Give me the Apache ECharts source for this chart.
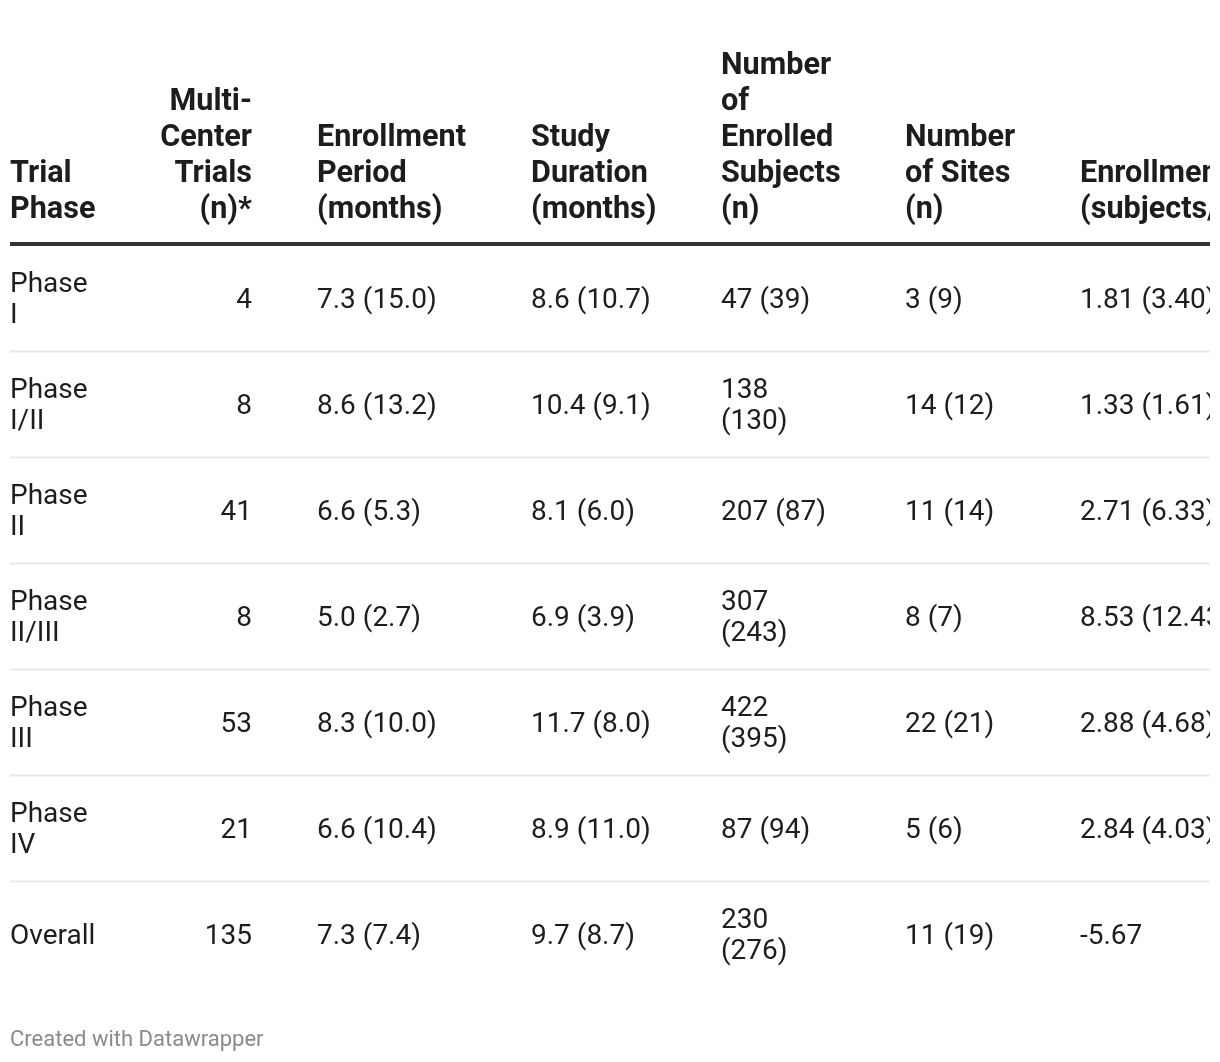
<!DOCTYPE html>
<html>
<head>
<meta charset="utf-8">
<script src="https://cdn.jsdelivr.net/npm/echarts@6/dist/echarts.min.js"></script>
<style>
  html, body { margin: 0; padding: 0; background: #ffffff; }
  #chart { width: 1210px; height: 1062px; }
</style>
</head>
<body>
<div id="chart"></div>
<script>
// ---- data ----
var phases = ['Phase I', 'Phase I/II', 'Phase II', 'Phase II/III', 'Phase III', 'Phase IV', 'Overall'];
var multiCenterTrials = [4, 8, 41, 8, 53, 21, 135];
var enrollPeriodMean = [7.3, 8.6, 6.6, 5.0, 8.3, 6.6, 7.3];
var enrollPeriodSD = [15.0, 13.2, 5.3, 2.7, 10.0, 10.4, 7.4];
var studyDurationMean = [8.6, 10.4, 8.1, 6.9, 11.7, 8.9, 9.7];
var studyDurationSD = [10.7, 9.1, 6.0, 3.9, 8.0, 11.0, 8.7];
var subjectsMean = [47, 138, 207, 307, 422, 87, 230];
var subjectsSD = [39, 130, 87, 243, 395, 94, 276];
var sitesMean = [3, 14, 11, 8, 22, 5, 11];
var sitesSD = [9, 12, 14, 7, 21, 6, 19];
var enrollRateMean = [1.81, 1.33, 2.71, 8.53, 2.88, 2.84, -5.67];
var enrollRateSD = [3.40, 1.61, 6.33, 12.43, 4.68, 4.03, null];
var headers = [
  ['Trial', 'Phase'],
  ['Multi-', 'Center', 'Trials', '(n)*'],
  ['Enrollment', 'Period', '(months)'],
  ['Study', 'Duration', '(months)'],
  ['Number', 'of', 'Enrolled', 'Subjects', '(n)'],
  ['Number', 'of Sites', '(n)'],
  ['Enrollment Rate', '(subjects/site/month)']
];
var footerText = 'Created with Datawrapper';

// ---- layout ----
var colX = [10, 252, 317, 531, 721, 905, 1080];
var colAlign = ['left', 'right', 'left', 'left', 'left', 'left', 'left'];
var FONT = 'Roboto, "Noto Sans", sans-serif';
var TEXT_COLOR = '#1d1d1d';
var BODY_TEXT_DY = 2.5;

function ms(m, s, d) {
  var t = m.toFixed(d);
  if (s !== null && s !== undefined) t += ' (' + s.toFixed(d) + ')';
  return t;
}
function cellTexts(i) {
  var phase = phases[i].indexOf('Phase') === 0 ? phases[i].replace(' ', '\n') : phases[i];
  var subj = ms(subjectsMean[i], subjectsSD[i], 0);
  if (subj.length >= 9) subj = subj.replace(' ', '\n');
  return [
    phase,
    String(multiCenterTrials[i]),
    ms(enrollPeriodMean[i], enrollPeriodSD[i], 1),
    ms(studyDurationMean[i], studyDurationSD[i], 1),
    subj,
    ms(sitesMean[i], sitesSD[i], 0),
    ms(enrollRateMean[i], enrollRateSD[i], 2)
  ];
}

var chart = echarts.init(document.getElementById('chart'), null, { renderer: 'canvas' });

var graphics = [];
headers.forEach(function (h, c) {
  graphics.push({
    type: 'text',
    x: colX[c],
    y: 228,
    style: {
      text: h.join('\n'),
      fill: TEXT_COLOR,
      fontWeight: 'bold',
      fontSize: 30.6,
      fontFamily: FONT,
      lineHeight: 36,
      textAlign: colAlign[c],
      textVerticalAlign: 'bottom'
    }
  });
});
graphics.push({
  type: 'rect',
  shape: { x: 10, y: 242, width: 1200, height: 4 },
  style: { fill: '#333333' }
});
graphics.push({
  type: 'text',
  x: 10,
  y: 1040,
  style: {
    text: footerText,
    fill: '#8a8a8a',
    fontSize: 22,
    fontFamily: FONT,
    textVerticalAlign: 'middle'
  }
});

chart.setOption({
  backgroundColor: '#ffffff',
  animation: false,
  grid: { left: 0, right: 0, top: 245, height: 742, containLabel: false },
  xAxis: { type: 'value', min: 0, max: 1210, show: false },
  yAxis: { type: 'category', data: phases, inverse: true, show: false },
  graphic: graphics,
  series: [{
    type: 'custom',
    clip: true,
    data: phases.map(function (p, i) { return [0, i]; }),
    renderItem: function (params, api) {
      var i = api.value(1);
      var band = api.size([0, 1])[1];
      var texts = cellTexts(i);
      var children = [];
      texts.forEach(function (t, c) {
        var pt = api.coord([colX[c], i]);
        children.push({
          type: 'text',
          x: pt[0],
          y: pt[1] + BODY_TEXT_DY,
          style: {
            text: t,
            fill: TEXT_COLOR,
            fontSize: 28,
            fontFamily: FONT,
            lineHeight: 31,
            textAlign: colAlign[c],
            textVerticalAlign: 'middle'
          }
        });
      });
      if (i < phases.length - 1) {
        var a = api.coord([10, i]);
        var b = api.coord([1210, i]);
        var y = a[1] + band / 2 + 0.5;
        children.push({
          type: 'line',
          shape: { x1: a[0], y1: y, x2: b[0], y2: y },
          style: { stroke: '#e8e8e8', lineWidth: 2 }
        });
      }
      return { type: 'group', children: children };
    }
  }]
});
</script>
</body>
</html>
